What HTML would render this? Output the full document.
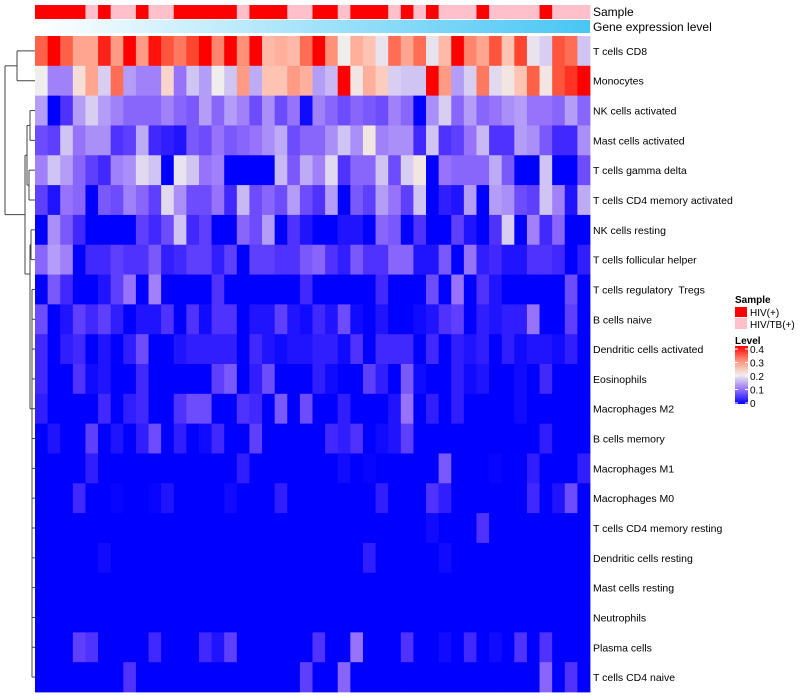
<!DOCTYPE html>
<html><head><meta charset="utf-8"><style>
body{margin:0;background:#fff;font-family:"Liberation Sans",sans-serif}
svg{display:block}
text{white-space:pre}
</style></head><body>
<svg id="chart" width="800" height="700" xmlns="http://www.w3.org/2000/svg">
<defs>
<linearGradient id="geneGrad" x1="0" x2="1" y1="0" y2="0"><stop offset="0" stop-color="#ffffff"/><stop offset="1" stop-color="#48c6f4"/></linearGradient>
<linearGradient id="levelGrad" x1="0" x2="0" y1="1" y2="0">
<stop offset="0" stop-color="#0000ff"/><stop offset="0.25" stop-color="#9673fa"/><stop offset="0.5" stop-color="#f0eeec"/><stop offset="0.75" stop-color="#ff9178"/><stop offset="1" stop-color="#ff0000"/></linearGradient>
</defs>
<g id="dendro" stroke="#444" stroke-width="1" fill="none"></g>
<g id="cells"></g>
<g id="annot"></g>
<rect x="35" y="20" width="555" height="13" fill="url(#geneGrad)"/>
<text x="593" y="16" font-size="12" fill="#000">Sample</text>
<text x="593" y="31" font-size="12" fill="#000">Gene expression level</text>
<g id="labels" font-size="10.5" fill="#000"></g>
<g font-size="10" fill="#000">
<text x="735" y="303" font-weight="bold">Sample</text>
<rect x="735" y="307" width="12" height="10" fill="#ff0000"/>
<text x="750" y="316">HIV(+)</text>
<rect x="735" y="318" width="12" height="11" fill="#ffc0cb"/>
<text x="750" y="328">HIV/TB(+)</text>
<text x="735" y="344" font-weight="bold">Level</text>
<rect x="735" y="346" width="13" height="58" fill="url(#levelGrad)"/>
<g id="levelTicks"></g>
</g>
</svg>
<script>
const rowNames=["T cells CD8","Monocytes","NK cells activated","Mast cells activated","T cells gamma delta","T cells CD4 memory activated","NK cells resting","T cells follicular helper","T cells regulatory  Tregs","B cells naive","Dendritic cells activated","Eosinophils","Macrophages M2","B cells memory","Macrophages M1","Macrophages M0","T cells CD4 memory resting","Dendritic cells resting","Mast cells resting","Neutrophils","Plasma cells","T cells CD4 naive"];
const sampleGroups=[0,0,0,0,1,0,1,1,0,1,1,0,0,0,0,0,1,0,0,0,1,1,0,0,1,0,0,0,1,0,1,0,1,1,1,0,1,1,1,1,0,1,1,1];
const levelTicks=[0,0.1,0.2,0.3,0.4];
const r0=[.34,.4,.34,.28,.28,.38,.29,.4,.29,.39,.35,.32,.36,.4,.31,.4,.3,.4,.26,.27,.26,.33,.4,.3,.2,.27,.25,.19,.33,.28,.33,.19,.26,.4,.31,.28,.35,.25,.36,.19,.17,.35,.33,.16];
const r1=[.2,.11,.11,.22,.28,.17,.33,.13,.11,.11,.23,.1,.16,.13,.2,.16,.29,.14,.25,.25,.29,.27,.13,.15,.4,.21,.27,.24,.17,.16,.16,.4,.29,.13,.17,.32,.18,.21,.25,.34,.21,.35,.37,.4];
const r2=[.13,0,.05,.13,.17,.13,.11,.09,.09,.09,.11,.09,.08,.13,.09,.13,.11,.07,.12,.07,.1,.01,.11,.09,.07,.09,.08,.07,.11,.09,0,.12,.17,.09,.13,.09,.1,.12,.13,.1,.1,.09,.13,.09];
const r3=[.07,.06,.16,.1,.12,.12,.05,.06,.14,.04,.03,.02,.08,.07,.1,.08,.09,.1,.12,.14,.07,.09,.09,.12,.16,.12,.21,.11,.12,.12,.04,.16,.05,.06,.1,.15,.05,.05,.13,.12,.08,.04,.04,.12];
const r4=[.11,.16,.13,.09,.06,.04,.11,.12,.18,.16,0,.19,.16,.1,.11,0,0,0,0,.15,.08,.14,.11,.18,.05,.09,.09,.16,.07,.17,.21,0,.1,.09,.09,.09,.14,.08,0,0,.16,0,0,.07];
const r5=[.06,.02,.1,.09,0,.08,.07,.11,.09,.06,.18,.12,.07,.07,.1,.04,.15,.07,.09,.07,.13,.07,.05,.13,0,.08,.06,.13,.1,.06,.16,0,.03,.02,.13,0,.13,.12,.07,.06,.16,.11,.02,.14];
const r6=[0,.12,.08,.04,0,0,0,0,.06,.04,.07,.16,.04,.06,0,0,.09,.07,.13,0,.05,.02,0,0,.02,.02,0,.09,.08,0,.05,0,0,.06,.02,0,.05,.17,0,.11,.04,.09,0,0];
const r7=[.09,.13,.11,0,.04,.04,.06,.05,.05,.08,.03,.04,.06,.06,.03,.06,0,.06,.06,.05,.05,.08,.09,.05,.03,.08,.05,.05,.09,.09,.02,.02,.08,0,.1,.03,.04,.02,.02,.05,.05,.04,0,.03];
const r8=[0,.08,.04,0,0,.02,.06,.1,0,.11,0,0,0,0,.05,0,0,0,0,0,0,.04,0,0,0,0,0,.04,0,0,0,.07,0,.1,0,.05,.02,0,0,0,0,0,.07,0];
const r9=[.07,0,.02,.06,.04,.06,.03,0,.02,.02,.05,0,.05,.01,.05,.05,0,.02,.02,.06,.02,.01,.04,.02,.07,.01,0,.02,0,0,.01,.02,.05,.06,0,.03,.02,.03,.03,.1,0,0,.06,0];
const r10=[.04,0,.03,.04,0,.02,0,.03,.07,0,0,.02,.03,.03,.03,.03,0,.04,.02,.01,.02,.02,.03,.03,.01,.05,0,.04,.04,.04,0,.04,0,.03,.02,.03,0,.03,.01,.02,.02,.01,.03,0];
const r11=[.04,0,0,.05,.01,.02,0,0,.04,0,0,0,0,0,.06,.08,0,.03,.07,0,0,0,.03,.01,0,0,.06,.03,0,.08,.01,0,0,.03,.01,.02,0,0,.01,0,.04,0,0,0];
const r12=[.03,0,0,0,0,.04,0,.03,.04,0,0,.05,.07,.07,0,0,.05,.04,0,.08,0,.07,0,0,.03,0,0,0,.02,.1,0,.03,0,.03,0,0,0,0,.01,0,0,0,0,0];
const r13=[0,.02,0,0,.06,0,.02,0,.03,.07,0,.03,0,.01,.04,0,0,.06,0,0,0,0,0,.04,.03,.05,0,.01,.02,.06,0,0,0,0,0,0,0,0,0,0,.03,0,0,0];
const r14=[0,0,0,0,.03,0,0,0,0,0,0,0,0,0,0,0,.03,0,0,0,0,0,0,0,.01,0,.005,0,0,0,0,0,.08,0,0,0,.005,0,0,.03,0,0,0,.03];
const r15=[0,0,0,.04,0,0,.005,0,0,.005,.02,0,0,0,0,.01,0,0,0,.03,0,0,0,0,0,0,0,.03,0,0,0,.05,.03,0,0,0,0,0,0,.04,0,.02,.07,0];
const r16=[0,0,0,0,0,0,0,0,0,0,0,0,0,0,0,0,0,0,0,0,0,0,0,0,0,0,0,0,0,0,0,.01,0,0,0,.05,0,0,0,0,0,0,0,0];
const r17=[0,0,0,0,0,.01,0,0,0,0,0,0,0,0,0,0,0,0,0,0,0,0,0,0,0,0,.03,0,0,0,0,0,.01,0,0,0,0,0,0,0,0,0,0,0];
const r18=[0,0,0,0,0,0,0,0,0,0,0,0,0,0,0,0,0,0,0,0,0,0,0,0,0,0,0,0,0,0,0,0,0,0,0,0,0,0,0,0,0,0,0,0];
const r19=[0,0,0,0,0,0,0,0,0,0,0,0,0,0,0,0,0,0,0,0,0,0,0,0,0,0,0,0,0,0,0,0,0,0,0,0,0,0,0,0,0,0,0,0];
const r20=[0,0,0,.06,.05,0,0,0,0,.04,0,0,0,.04,.02,.06,0,0,0,0,0,0,.05,0,0,.1,0,0,0,.05,0,0,.01,0,.04,0,.01,0,.05,0,.05,0,0,0];
const r21=[0,0,0,0,0,0,0,.05,0,0,0,0,0,0,0,0,0,0,0,0,0,.06,0,0,.09,0,0,0,0,0,0,0,0,0,0,0,0,0,0,0,.09,0,.05,0];
const values=[r0,r1,r2,r3,r4,r5,r6,r7,r8,r9,r10,r11,r12,r13,r14,r15,r16,r17,r18,r19,r20,r21];

const NS="http://www.w3.org/2000/svg";
const X0=35,X1=590,Y0=36,Y1=692;
const nCols=r0.length,nRows=values.length;
const cw=(X1-X0)/nCols,rh=(Y1-Y0)/nRows;
const xPos=i=>X0+i*cw, yPos=j=>Y0+j*rh;
const stops=[[0,[0,0,255]],[.05,[80,50,255]],[.1,[150,115,250]],[.15,[200,185,245]],[.2,[240,238,236]],[.25,[255,195,180]],[.3,[255,145,120]],[.35,[255,85,60]],[.4,[255,0,0]]];
function color(v){v=Math.max(0,Math.min(.4,v));for(let k=1;k<stops.length;k++){if(v<=stops[k][0]){const a=stops[k-1],b=stops[k],t=(v-a[0])/(b[0]-a[0]);const c=a[1].map((x,i)=>Math.round(x+(b[1][i]-x)*t));return `rgb(${c})`;}}return "rgb(255,0,0)";}
function mk(tag,attrs,parent){const e=document.createElementNS(NS,tag);for(const k in attrs)e.setAttribute(k,attrs[k]);parent.appendChild(e);return e;}
const cells=document.getElementById('cells');
values.forEach((row,j)=>row.forEach((v,i)=>{
 const r=mk('rect',{x:xPos(i),y:yPos(j),width:cw+0.4,height:rh+0.4,fill:color(v)},cells);
 
 
}));
const annot=document.getElementById('annot');
sampleGroups.forEach((g,i)=>{
 const r=mk('rect',{x:xPos(i),y:5,width:cw+0.4,height:14,fill:g?'#ffc0cb':'#ff0000'},annot);
 
 
});
const labels=document.getElementById('labels');
rowNames.forEach((n,j)=>{
 const t=mk('text',{x:593,y:yPos(j)+rh/2+4},labels);t.textContent=n;
 
 
});
const lt=document.getElementById('levelTicks');
levelTicks.forEach(v=>{
 const y=403-(v/0.4)*54;
 mk('line',{x1:735,x2:738,y1:y,y2:y,stroke:'#fff'},lt);
 mk('line',{x1:745,x2:748,y1:y,y2:y,stroke:'#fff'},lt);
 const t=mk('text',{x:750,y:y+4},lt);t.textContent=String(v);
 
 
});
// dendrogram (approximate structure)
const d=document.getElementById('dendro');
const yc=j=>yPos(j)+rh/2;
function seg(x1,y1,x2,y2){mk('line',{x1,y1,x2,y2},d);}
// CD8 + Monocytes
seg(35,yc(0),17,yc(0));seg(35,yc(1),17,yc(1));seg(17,yc(0),17,yc(1));
const topMid=(yc(0)+yc(1))/2;
seg(17,topMid,5,topMid);
// rows 2-5 subcluster
seg(35,yc(2),30,yc(2));seg(35,yc(3),30,yc(3));seg(30,yc(2),30,yc(3));
seg(35,yc(4),29,yc(4));seg(35,yc(5),29,yc(5));seg(29,yc(4),29,yc(5));
const m23=(yc(2)+yc(3))/2,m45=(yc(4)+yc(5))/2;
seg(30,m23,27,m23);seg(29,m45,27,m45);seg(27,m23,27,m45);
const mA=(m23+m45)/2;
seg(27,mA,25,mA);
// rows 6-7
seg(35,yc(6),31,yc(6));seg(35,yc(7),31,yc(7));seg(31,yc(6),31,yc(7));
const m67=(yc(6)+yc(7))/2;
// rows 8-21 chain
for(let j=8;j<nRows;j++){seg(35,yc(j),32,yc(j));}
seg(32,yc(8),32,yc(nRows-1));
const mLow=yc(12);
seg(32,mLow,30,mLow);
seg(31,m67,30,m67);
seg(30,m67,30,mLow);
const mB=274;
seg(30,mB,25,mB);
seg(25,mA,25,mB);
const rootLow=(mA+mB)/2;
seg(25,rootLow,5,rootLow);
seg(5,topMid,5,rootLow);
</script>
</body></html>
